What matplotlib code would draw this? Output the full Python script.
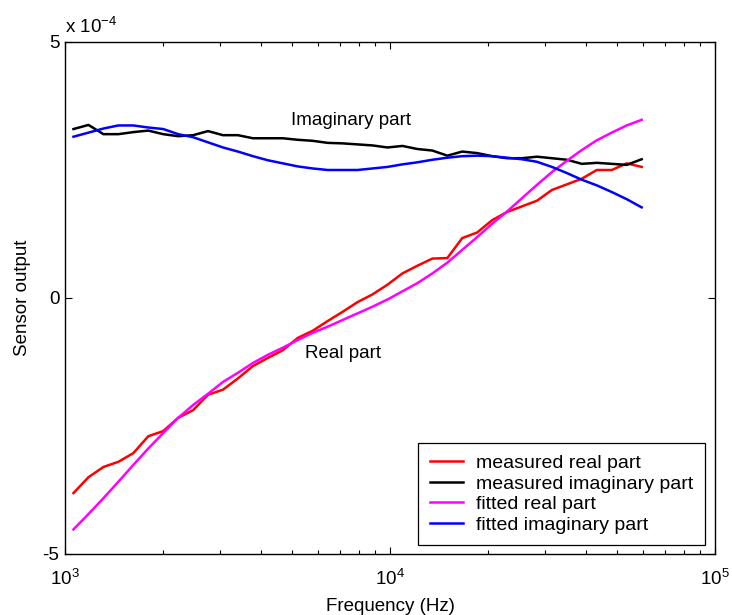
import matplotlib
matplotlib.use("Agg")
import matplotlib.pyplot as plt
import numpy as np
from matplotlib.ticker import FixedLocator, FuncFormatter, LogLocator, NullFormatter

plt.rcParams['font.family'] = ['Liberation Sans', 'DejaVu Sans']
plt.rcParams['mathtext.fontset'] = 'custom'
plt.rcParams['mathtext.rm'] = 'Liberation Sans'
plt.rcParams['mathtext.it'] = 'Liberation Sans'

# frequencies (Hz)
freq = [1062, 1181, 1313, 1459, 1623, 1804, 2005, 2230, 2479, 2755,
        3063, 3405, 3786, 4209, 4679, 5202, 5783, 6429, 7147, 7946,
        8834, 9822, 10920, 12140, 13500, 15010, 16680, 18550, 20620, 22920,
        25480, 28330, 31500, 35020, 38930, 43280, 48120, 53500, 59480]

# values in units of 1e-4
measured_real = [-3.81, -3.50, -3.30, -3.20, -3.03, -2.70, -2.60, -2.34, -2.19, -1.89,
                 -1.79, -1.57, -1.33, -1.17, -1.02, -0.78, -0.64, -0.45, -0.27, -0.08,
                 0.07, 0.26, 0.48, 0.63, 0.77, 0.78, 1.17, 1.28, 1.52, 1.68,
                 1.79, 1.90, 2.11, 2.22, 2.33, 2.50, 2.50, 2.63, 2.56]
measured_imag = [3.30, 3.38, 3.20, 3.20, 3.24, 3.27, 3.20, 3.16, 3.18, 3.26,
                 3.18, 3.18, 3.12, 3.12, 3.12, 3.09, 3.07, 3.03, 3.02, 3.00,
                 2.98, 2.94, 2.97, 2.91, 2.88, 2.78, 2.86, 2.83, 2.77, 2.73,
                 2.73, 2.76, 2.73, 2.70, 2.62, 2.64, 2.62, 2.60, 2.71]
fitted_real = [-4.52, -4.22, -3.91, -3.59, -3.26, -2.94, -2.64, -2.34, -2.09, -1.87,
               -1.64, -1.46, -1.27, -1.11, -0.97, -0.82, -0.68, -0.56, -0.43, -0.30,
               -0.17, -0.03, 0.13, 0.29, 0.48, 0.69, 0.94, 1.19, 1.45, 1.69,
               1.95, 2.21, 2.46, 2.68, 2.89, 3.08, 3.23, 3.37, 3.48]
fitted_imag = [3.15, 3.23, 3.31, 3.37, 3.37, 3.33, 3.30, 3.20, 3.14, 3.04,
               2.94, 2.86, 2.77, 2.69, 2.63, 2.57, 2.53, 2.50, 2.50, 2.50,
               2.53, 2.56, 2.61, 2.65, 2.70, 2.74, 2.77, 2.78, 2.77, 2.74,
               2.71, 2.66, 2.56, 2.44, 2.31, 2.20, 2.07, 1.93, 1.77]

series_labels = ['measured real part', 'measured imaginary part',
                 'fitted real part', 'fitted imaginary part']
x_ticks = [1e3, 1e4, 1e5]
x_ticklabels = [r'$10^3$', r'$10^4$', r'$10^5$']
y_ticks = [-5, 0, 5]

FS = 13.5

fig = plt.figure(figsize=(7.32, 6.15), dpi=100)
ax = fig.add_axes([65/732, 61/615, 650/732, 512/615])

lw = 1.8
ax.plot(freq, measured_real, color='#ff0000', lw=lw, label=series_labels[0])
ax.plot(freq, measured_imag, color='#000000', lw=lw, label=series_labels[1])
ax.plot(freq, fitted_real, color='#ff00ff', lw=lw, label=series_labels[2])
ax.plot(freq, fitted_imag, color='#0000ff', lw=lw, label=series_labels[3])

ax.set_xscale('log')
ax.set_xlim(1e3, 1e5)
ax.set_ylim(-5, 5)
ax.xaxis.set_major_locator(FixedLocator(x_ticks))
ax.set_xticklabels(x_ticklabels)
ax.xaxis.set_minor_locator(LogLocator(base=10, subs=np.arange(2, 10)))
ax.xaxis.set_minor_formatter(NullFormatter())
ax.yaxis.set_major_locator(FixedLocator(y_ticks))
ax.yaxis.set_major_formatter(FuncFormatter(lambda v, p: '%d' % v))
ax.tick_params(which='both', direction='in', top=True, right=True, labelsize=FS, width=0.8)
ax.tick_params(which='major', length=5)
ax.tick_params(which='minor', length=3)
ax.tick_params(axis='x', which='major', pad=11)
ax.tick_params(axis='y', which='major', pad=4)
for s in ax.spines.values():
    s.set_linewidth(1.0)

ax.text(0.0, 1.01, r'x $10^{-4}$', transform=ax.transAxes, fontsize=FS, ha='left', va='bottom')

ax.set_xlabel('Frequency (Hz)', fontsize=FS, labelpad=6)
ax.set_ylabel('Sensor output', fontsize=FS, labelpad=8)

ax.text(4960, 3.46, 'Imaginary part', fontsize=FS, ha='left', va='center')
ax.text(5470, -1.09, 'Real part', fontsize=FS, ha='left', va='center')

leg = ax.legend(loc='lower right', bbox_to_anchor=(0.985, 0.017), fontsize=14,
                frameon=True, fancybox=False, edgecolor='black', framealpha=1,
                handlelength=1.7, handletextpad=0.7, borderpad=0.6, labelspacing=0.15,
                borderaxespad=0)
leg.get_frame().set_linewidth(0.9)

fig.savefig('out.png', dpi=100)
